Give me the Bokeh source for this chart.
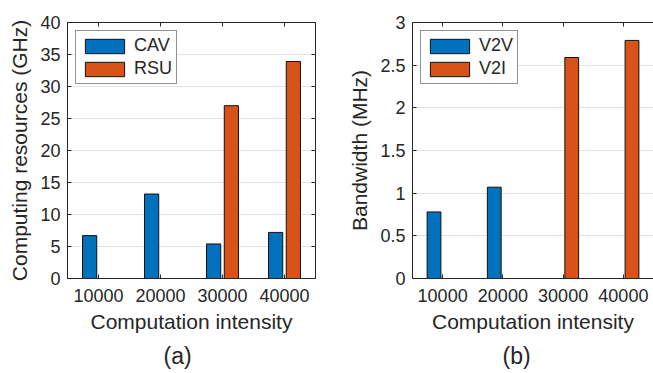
from bokeh.plotting import figure
from bokeh.models import (Range1d, LinearAxis, Legend,
                          LegendItem, Title, FixedTicker, ColumnDataSource)
from bokeh.transform import dodge
from bokeh.layouts import row
from bokeh.embed import file_html
from bokeh.resources import INLINE

# ---------------- data ----------------
categories = ["10000", "20000", "30000", "40000"]
cav = [6.7, 13.2, 5.4, 7.2]
rsu = [0.0, 0.0, 27.0, 33.9]
v2v = [0.78, 1.07, 0.0, 0.0]
v2i = [0.0, 0.0, 2.59, 2.79]
yticks_a = [0, 5, 10, 15, 20, 25, 30, 35, 40]
yticks_a_labels = ["0", "5", "10", "15", "20", "25", "30", "35", "40"]
yticks_b = [0, 0.5, 1, 1.5, 2, 2.5, 3]
yticks_b_labels = ["0", "0.5", "1", "1.5", "2", "2.5", "3"]

FONT = "Liberation Sans"
TXT = "#262626"
BLUE = "#0072BD"
ORANGE = "#D95319"
H = 373
TOP = 22
FRAME_H = 257


def make_panel(names, s1, s2, ymax, yticks, ylabels, ylabel, tag, width,
               bl, br, tag_offset, boxed=True):
    n = len(categories)
    centres = [i + 0.5 for i in range(n)]
    p = figure(x_range=Range1d(0, n), y_range=Range1d(0, ymax), width=width, height=H,
               output_backend="svg", toolbar_location=None,
               min_border_left=bl, min_border_right=br, min_border_top=TOP,
               min_border_bottom=H - TOP - FRAME_H)
    p.background_fill_color = "white"
    p.border_fill_color = "white"
    p.outline_line_color = TXT if boxed else None
    p.outline_line_width = 1
    src = ColumnDataSource(dict(xc=centres, cat=categories, a=s1, b=s2))
    r1 = p.vbar(x=dodge("xc", -0.143), top="a", width=0.229,
                source=src, fill_color=BLUE, line_color="#111111", line_width=1)
    r2 = p.vbar(x=dodge("xc", 0.143), top="b", width=0.229,
                source=src, fill_color=ORANGE, line_color="#111111", line_width=1)

    p.xgrid.grid_line_color = None
    p.ygrid.grid_line_color = "#e3e3e3"
    p.ygrid.ticker = FixedTicker(ticks=yticks)

    for ax in p.yaxis:
        ax.ticker = FixedTicker(ticks=yticks)
        ax.major_label_overrides = {t: l for t, l in zip(yticks, ylabels)}
        ax.major_label_standoff = 7
        ax.axis_label = ylabel
        ax.axis_label_standoff = 6
    for ax in p.xaxis:
        ax.ticker = FixedTicker(ticks=centres)
        ax.major_label_overrides = {c: l for c, l in zip(centres, categories)}
        ax.major_label_standoff = 10
        ax.axis_label = "Computation intensity"
        ax.axis_label_standoff = 5
    for ax in p.axis:
        ax.major_tick_in = 4
        ax.major_tick_out = 0
        ax.minor_tick_in = 0
        ax.minor_tick_out = 0
        ax.axis_line_color = TXT
        ax.major_tick_line_color = TXT
        ax.major_label_text_font = FONT
        ax.major_label_text_font_size = "18px"
        ax.major_label_text_color = TXT
        ax.axis_label_text_font = FONT
        ax.axis_label_text_font_size = "21px"
        ax.axis_label_text_font_style = "normal"
        ax.axis_label_text_color = TXT

    top_ax = LinearAxis(ticker=FixedTicker(ticks=centres),
                        major_label_overrides={c: "" for c in centres},
                        major_label_standoff=0, major_tick_in=4, major_tick_out=0,
                        minor_tick_in=0, minor_tick_out=0,
                        axis_line_color=TXT, major_tick_line_color=TXT)
    p.add_layout(top_ax, "above")
    if boxed:
        right_ax = LinearAxis(ticker=FixedTicker(ticks=yticks),
                              major_label_overrides={t: "" for t in yticks},
                              major_label_standoff=0,
                              major_tick_in=4, major_tick_out=0, minor_tick_in=0,
                              minor_tick_out=0, axis_line_color=TXT,
                              major_tick_line_color=TXT)
        p.add_layout(right_ax, "right")

    legend = Legend(items=[LegendItem(label=names[0], renderers=[r1]),
                           LegendItem(label=names[1], renderers=[r2])],
                    location="top_left", margin=8, padding=4, spacing=2,
                    glyph_width=49, glyph_height=18, label_standoff=5,
                    label_text_font=FONT, label_text_font_size="18px",
                    label_text_color=TXT, border_line_color=TXT,
                    border_line_width=1, background_fill_color="white",
                    background_fill_alpha=1.0)
    p.add_layout(legend)

    p.add_layout(Title(text=tag, align="left", offset=tag_offset,
                       text_font=FONT, text_font_size="23px",
                       text_font_style="normal", text_color=TXT,
                       standoff=10), "below")
    return p


p1 = make_panel(["CAV", "RSU"], cav, rsu, 40, yticks_a, yticks_a_labels,
                "Computing resources (GHz)", "(a)", 340, 67, 25, 96)
p2 = make_panel(["V2V", "V2I"], v2v, v2i, 3, yticks_b, yticks_b_labels,
                "Bandwidth (MHz)", "(b)", 313, 72, 0, 90, boxed=False)

layout = row(p1, p2)
open("out.html", "w").write(file_html(layout, INLINE))
